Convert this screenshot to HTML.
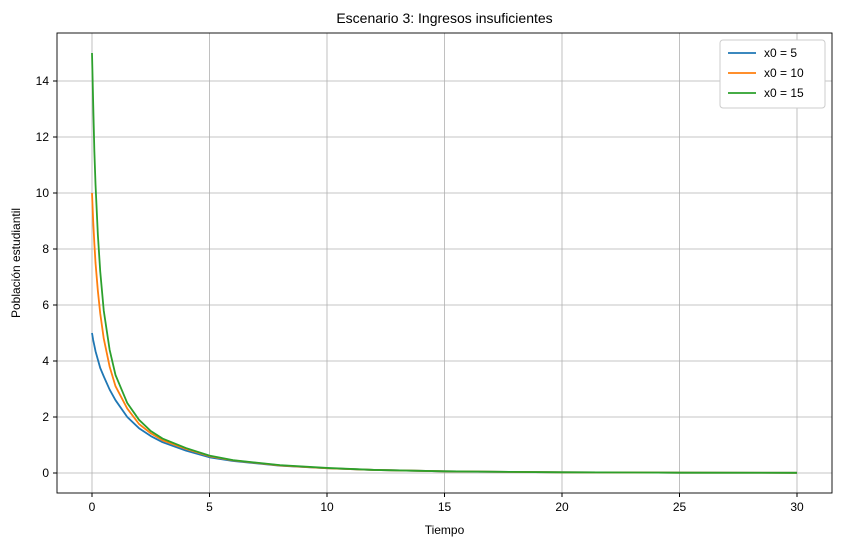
<!DOCTYPE html>
<html><head><meta charset="utf-8"><style>
body{margin:0;background:#fff;font-family:"Liberation Sans","DejaVu Sans",sans-serif}
</style></head><body>
<svg id="c" width="841" height="547" xmlns="http://www.w3.org/2000/svg"></svg>
<script>
const times=[0,0.05,0.1,0.15,0.25,0.35,0.5,0.75,1,1.5,2,2.5,3,4,5,6,8,10,12,15,20,25,30];
const s5 =[5,4.75,4.55,4.35,4.05,3.75,3.45,2.98,2.6,2.0,1.6,1.32,1.1,0.8,0.56,0.43,0.26,0.17,0.11,0.06,0.025,0.012,0.006];
const s10=[10,9.0,8.2,7.5,6.5,5.7,4.8,3.8,3.1,2.3,1.75,1.42,1.17,0.86,0.6,0.45,0.27,0.17,0.11,0.06,0.025,0.012,0.006];
const s15=[15,13.2,11.5,10.3,8.5,7.2,5.8,4.4,3.5,2.5,1.9,1.5,1.23,0.89,0.62,0.46,0.28,0.18,0.11,0.06,0.025,0.012,0.006];
const xTicks=[0,5,10,15,20,25,30];
const yTicks=[0,2,4,6,8,10,12,14];
const seriesNames=["x0 = 5","x0 = 10","x0 = 15"];
const colors=["#1f77b4","#ff7f0e","#2ca02c"];
const L=57,R=832,T=33,B=493;
const X=v=>92+v*(797-92)/30;
const Y=v=>473-v*28;
const svg=document.getElementById('c');
const NS="http://www.w3.org/2000/svg";
function mk(t,a,txt){const e=document.createElementNS(NS,t);for(const k in a)e.setAttribute(k,a[k]);if(txt!=null)e.textContent=txt;svg.appendChild(e);return e;}
xTicks.forEach(v=>{
 const g=mk('line',{x1:X(v),x2:X(v),y1:T,y2:B,stroke:'#b0b0b0','stroke-width':0.8});
 
 mk('line',{x1:X(v),x2:X(v),y1:B,y2:B+4,stroke:'#000'});
 const t=mk('text',{x:X(v),y:B+18,'text-anchor':'middle','font-size':12},v);
 
});
yTicks.forEach(v=>{
 const g=mk('line',{x1:L,x2:R,y1:Y(v),y2:Y(v),stroke:'#b0b0b0','stroke-width':0.8});
 
 mk('line',{x1:L-4,x2:L,y1:Y(v),y2:Y(v),stroke:'#000'});
 const t=mk('text',{x:L-8,y:Y(v)+4,'text-anchor':'end','font-size':12},v);
 
});
[s5,s10,s15].forEach((s,i)=>{
 const p=mk('polyline',{points:times.map((t,j)=>X(t)+','+Y(s[j])).join(' '),fill:'none',stroke:colors[i],'stroke-width':1.8,'stroke-linejoin':'round'});
 
});
const fr=mk('rect',{x:L,y:T,width:R-L,height:B-T,fill:'none',stroke:'#000','stroke-width':0.9});

const ti=mk('text',{x:(L+R)/2,y:23,'text-anchor':'middle','font-size':14},'Escenario 3: Ingresos insuficientes');

const xl=mk('text',{x:(L+R)/2,y:534,'text-anchor':'middle','font-size':12},'Tiempo');

const yl=mk('text',{x:20,y:(T+B)/2,'text-anchor':'middle','font-size':12,transform:`rotate(-90 20 ${(T+B)/2})`},'Población estudiantil');

const lg=mk('rect',{x:720,y:40,width:105,height:68,fill:'#fff',stroke:'#ccc',rx:3});

seriesNames.forEach((n,i)=>{
 const y=53+i*20;
 const l=mk('line',{x1:728,x2:756,y1:y,y2:y,stroke:colors[i],'stroke-width':1.8});
 
 const t=mk('text',{x:764,y:y+4,'font-size':12},n);
 
});
</script>
</body></html>
